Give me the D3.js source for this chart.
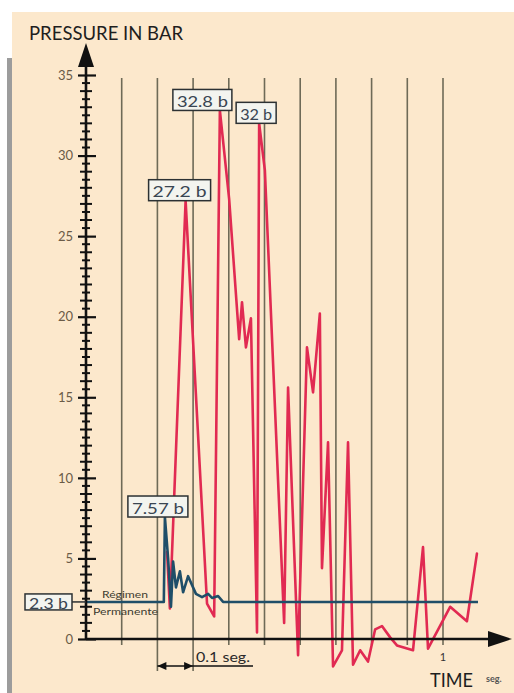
<!DOCTYPE html>
<html>
<head>
<meta charset="utf-8">
<script src="https://cdn.jsdelivr.net/npm/d3@7"></script>
<style>
  html, body { margin: 0; padding: 0; background: #ffffff; }
  svg { display: block; }
</style>
</head>
<body>
<svg id="chart" width="514" height="693"></svg>
<script>
// ---- data ----
const yTickLabels = [0, 5, 10, 15, 20, 25, 30, 35];
const gridTimes = [0.1, 0.2, 0.3, 0.4, 0.5, 0.6, 0.7, 0.8, 0.9, 1.0];
const timeTickLabels = [1];

// measured pressure (bar) after the valve closes
const redTime = [0.227, 0.235, 0.279, 0.339, 0.359, 0.375, 0.401, 0.429, 0.437, 0.448,
                 0.462, 0.479, 0.485, 0.501, 0.555, 0.566, 0.594, 0.619, 0.636, 0.655,
                 0.661, 0.678, 0.692, 0.717, 0.734, 0.748, 0.768, 0.790, 0.810, 0.829,
                 0.852, 0.871, 0.916, 0.944, 0.958, 1.020, 1.067, 1.095];
const redPressure = [5.4, 1.9, 27.2, 2.2, 1.4, 32.8, 27.3, 18.6, 20.9, 18.1,
                     19.9, 0.4, 32, 29.1, 1.0, 15.6, -1.0, 18.1, 15.3, 20.2,
                     4.4, 12.2, -1.7, -0.7, 12.2, -1.6, -0.7, -1.4, 0.6, 0.8,
                     0.1, -0.4, -0.7, 5.7, -0.6, 2.0, 1.1, 5.3];

// pressure with protection: short transient, then steady state
const blueTime = [0, 0.218, 0.221, 0.230, 0.238, 0.244, 0.252, 0.263, 0.272, 0.286,
                  0.308, 0.325, 0.342, 0.353, 0.370, 0.384, 1.098];
const bluePressure = [2.3, 2.3, 7.57, 5.0, 2.0, 4.8, 3.2, 4.2, 2.9, 3.9,
                      2.8, 2.6, 2.8, 2.55, 2.67, 2.3, 2.3];

// which points carry a value tag
const redPeakIndex = [2, 5, 12];
const bluePeakIndex = [2];
const steadyIndex = 0;

// ---- layout ----
const svg = d3.select("#chart");
const W = 514, H = 693;
const x = d3.scaleLinear().domain([0, 1]).range([86, 443]);
const y = d3.scaleLinear().domain([0, 35]).range([639, 75]);
const x0 = x(0), y0 = y(0);

const COL = {
  bg: "#fce8cc",
  grid: "#6e6a57",
  red: "#e12a52",
  blue: "#1f4e68",
  axis: "#111111",
  tickText: "#6a5b47",
  boxText: "#394552"
};
const FONT = "Lato, 'Open Sans', 'DejaVu Sans', sans-serif";

// background panel and left edge bar
svg.append("rect").attr("x", 0).attr("y", 0).attr("width", W).attr("height", H).attr("fill", "#ffffff");
svg.append("rect").attr("x", 12).attr("y", 12).attr("width", W - 12).attr("height", H - 12).attr("fill", COL.bg);
svg.append("rect").attr("x", 7).attr("y", 58).attr("width", 5).attr("height", H - 58).attr("fill", "#9c9c9c");

// vertical time grid (0.1 s apart)
svg.append("g").selectAll("line").data(gridTimes).join("line")
  .attr("x1", d => x(d)).attr("x2", d => x(d))
  .attr("y1", 78)
  .attr("y2", (d, i) => (i === 1 || i === 2) ? 671 : y0 + 6)
  .attr("stroke", COL.grid).attr("stroke-width", 1.6);

// pressure traces
const redLine = d3.line().x(d => x(d[0])).y(d => y(d[1]));
svg.append("path")
  .datum(d3.zip(redTime, redPressure))
  .attr("d", redLine)
  .attr("fill", "none").attr("stroke", COL.red).attr("stroke-width", 2.6)
  .attr("stroke-linejoin", "round").attr("stroke-linecap", "round");

svg.append("path")
  .datum(d3.zip(blueTime, bluePressure))
  .attr("d", redLine)
  .attr("fill", "none").attr("stroke", COL.blue).attr("stroke-width", 2.6)
  .attr("stroke-linejoin", "round");

// x axis with arrow
svg.append("line").attr("x1", x0).attr("x2", 492).attr("y1", y0).attr("y2", y0)
  .attr("stroke", COL.axis).attr("stroke-width", 2.4);
svg.append("path").attr("d", `M512,${y0} L488,${y0 - 8} L488,${y0 + 8} Z`).attr("fill", COL.axis);

// y axis with arrow
svg.append("line").attr("x1", x0).attr("x2", x0).attr("y1", y0).attr("y2", 62)
  .attr("stroke", COL.axis).attr("stroke-width", 2.6);
svg.append("path").attr("d", `M${x0},43 L${x0 - 8},67 L${x0 + 8},67 Z`).attr("fill", COL.axis);

// minor ticks every 0.5 bar, crossing the axis
const minorTicks = d3.range(0.5, 35, 0.5).filter(v => v % 5 !== 0);
svg.append("g").selectAll("line").data(minorTicks).join("line")
  .attr("x1", v => x0 - (v % 1 === 0 ? 6 : 4))
  .attr("x2", v => x0 + (v % 1 === 0 ? 6 : 4))
  .attr("y1", v => y(v)).attr("y2", v => y(v))
  .attr("stroke", COL.axis).attr("stroke-width", 2);

// major ticks and labels
const yAxis = d3.axisLeft(y).tickValues(yTickLabels).tickSize(0).tickPadding(13);
const gy = svg.append("g").attr("transform", `translate(${x0},0)`).call(yAxis);
gy.select(".domain").remove();
gy.selectAll(".tick line")
  .attr("x1", -8).attr("x2", 10)
  .attr("stroke", COL.axis).attr("stroke-width", 2.2);
gy.selectAll(".tick text")
  .attr("font-family", FONT).attr("font-size", 13)
  .attr("fill", COL.tickText);

// time tick label
svg.append("g").selectAll("text").data(timeTickLabels).join("text")
  .attr("x", d => x(d)).attr("y", y0 + 22)
  .attr("text-anchor", "middle")
  .attr("font-family", FONT).attr("font-size", 11).attr("fill", "#333")
  .text(d => d);

// 0.1 s dimension marker
const dimY = 666;
const dA = x(gridTimes[1]), dB = x(gridTimes[2]);
svg.append("line").attr("x1", dA).attr("x2", 253).attr("y1", dimY).attr("y2", dimY)
  .attr("stroke", COL.axis).attr("stroke-width", 1.3);
svg.append("path").attr("d", `M${dA},${dimY} L${dA + 9},${dimY - 4} L${dA + 9},${dimY + 4} Z`).attr("fill", COL.axis);
svg.append("path").attr("d", `M${dB},${dimY} L${dB - 9},${dimY - 4} L${dB - 9},${dimY + 4} Z`).attr("fill", COL.axis);
svg.append("text").attr("x", 196).attr("y", 662)
  .attr("font-family", FONT).attr("font-size", 13).attr("fill", "#2a2a2a")
  .attr("textLength", 54).attr("lengthAdjust", "spacingAndGlyphs")
  .text("0.1 seg.");

// axis titles
svg.append("text").attr("x", 29).attr("y", 40)
  .attr("font-family", FONT).attr("font-size", 19).attr("fill", "#1e1e1e")
  .attr("textLength", 154).attr("lengthAdjust", "spacingAndGlyphs")
  .text("PRESSURE IN BAR");
svg.append("text").attr("x", 430).attr("y", 687)
  .attr("font-family", FONT).attr("font-size", 19).attr("fill", "#1e1e1e")
  .attr("textLength", 43).attr("lengthAdjust", "spacingAndGlyphs")
  .text("TIME");
svg.append("text").attr("x", 486).attr("y", 682)
  .attr("font-family", FONT).attr("font-size", 9).attr("font-weight", "bold").attr("fill", "#555")
  .text("seg.");

// steady-state label
const steadyV = bluePressure[steadyIndex];
svg.append("text").attr("x", 102).attr("y", y(steadyV) - 4)
  .attr("font-family", FONT).attr("font-size", 10).attr("fill", "#3c3c30")
  .attr("textLength", 46).attr("lengthAdjust", "spacingAndGlyphs")
  .text("Régimen");
svg.append("text").attr("x", 93).attr("y", y(steadyV) + 13)
  .attr("font-family", FONT).attr("font-size", 10).attr("fill", "#3c3c30")
  .attr("textLength", 65).attr("lengthAdjust", "spacingAndGlyphs")
  .text("Permanente");

// value tags
function tag(px, top, w, h, label) {
  svg.append("rect").attr("x", px).attr("y", top).attr("width", w).attr("height", h)
    .attr("fill", "#f3f4ef").attr("stroke", "#2c3133").attr("stroke-width", 1.5);
  svg.append("text").attr("x", px + w / 2).attr("y", top + h / 2 + 1)
    .attr("text-anchor", "middle").attr("dominant-baseline", "central")
    .attr("font-family", FONT).attr("font-size", 15).attr("fill", COL.boxText)
    .attr("textLength", w - 8).attr("lengthAdjust", "spacingAndGlyphs")
    .text(label);
}
const fmt = v => `${v} b`;
const redTagLayout = [{ dx: -37, w: 62 }, { dx: -47, w: 59 }, { dx: -23, w: 40 }];
redPeakIndex.forEach((idx, i) => {
  const px = x(redTime[idx]), py = y(redPressure[idx]);
  const L = redTagLayout[i];
  tag(px + L.dx, py - 21, L.w, 21, fmt(redPressure[idx]));
});
bluePeakIndex.forEach(idx => {
  const px = x(blueTime[idx]), py = y(bluePressure[idx]);
  tag(px - 37, py - 21, 60, 21, fmt(bluePressure[idx]));
});
svg.append("line").attr("x1", 72).attr("x2", x0).attr("y1", y(steadyV)).attr("y2", y(steadyV))
  .attr("stroke", "#2c3133").attr("stroke-width", 1.5);
tag(25, y(steadyV) - 8, 47, 16, fmt(steadyV));
</script>
</body>
</html>
